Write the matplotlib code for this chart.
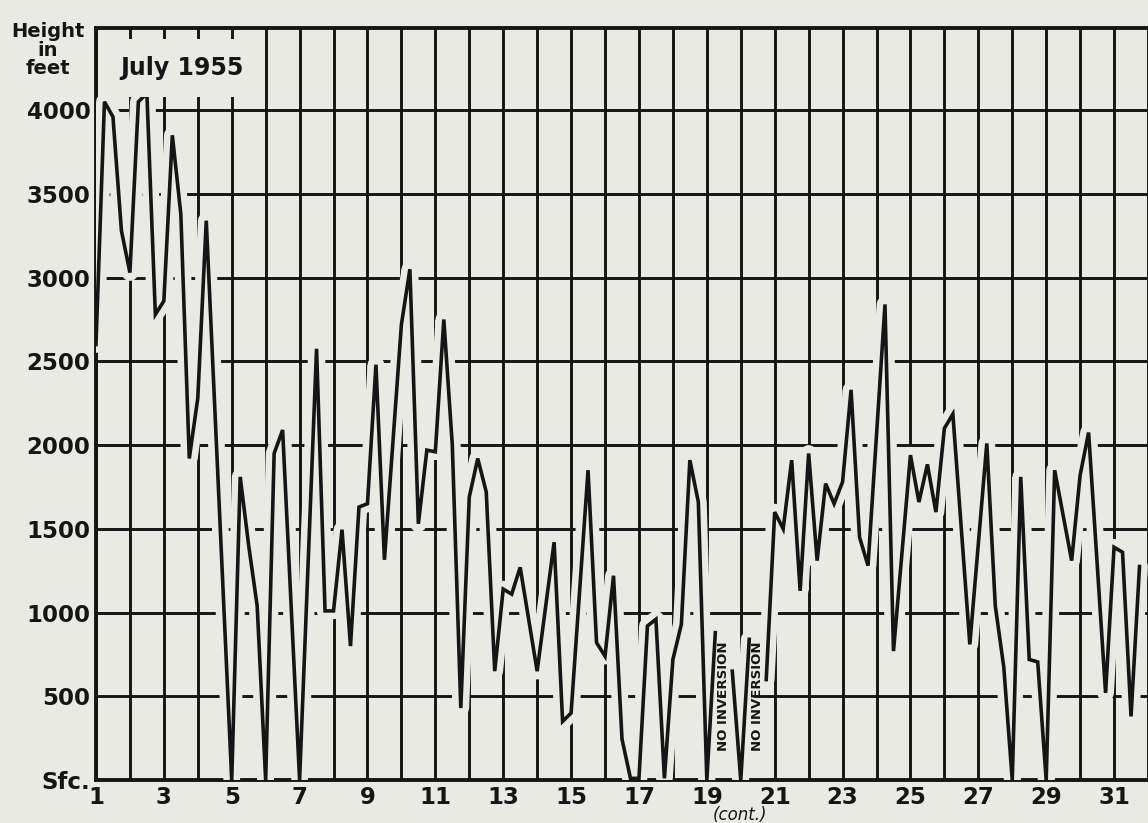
import numpy as np
import matplotlib.pyplot as plt
import matplotlib.patheffects as pe

# Height of the base of the inversion, four soundings a day, July 1955
obs_day = [1.0, 1.25, 1.5, 1.75, 2.0, 2.25, 2.5, 2.75, 3.0, 3.25, 3.5, 3.75,
           4.0, 4.25, 5.0, 5.25, 5.5, 5.75, 6.0, 6.25, 6.5, 7.0, 7.5, 7.75,
           8.0, 8.25, 8.5, 8.75, 9.0, 9.25, 9.5, 10.0, 10.25, 10.5, 10.75,
           11.0, 11.25, 11.5, 11.75, 12.0, 12.25, 12.5, 12.75, 13.0, 13.25,
           13.5, 14.0, 14.5, 14.75, 15.0, 15.5, 15.75, 16.0, 16.25, 16.5,
           16.75, 17.0, 17.25, 17.5, 17.75, 18.0, 18.25, 18.5, 18.75, 19.0,
           19.25, 19.5, 19.75, 20.0, 20.25, 20.5, 20.75, 21.0, 21.25, 21.5,
           21.75, 22.0, 22.25, 22.5, 22.75, 23.0, 23.25, 23.5, 23.75, 24.25,
           24.5, 25.0, 25.25, 25.5, 25.75, 26.0, 26.25, 26.75, 27.25, 27.5,
           27.75, 28.0, 28.25, 28.5, 28.75, 29.0, 29.25, 29.75, 30.0, 30.25,
           30.75, 31.0, 31.25, 31.5, 31.75]
inv_height = [2600, 4050, 3960, 3280, 3030, 4050, 4100, 2780, 2860, 3850, 3380, 1920,
              2280, 3340, 0, 1810, 1400, 1040, 0, 1950, 2090, 0, 2575, 1010,
              1010, 1495, 800, 1630, 1650, 2480, 1315, 2720, 3050, 1530, 1970,
              1960, 2750, 2000, 430, 1690, 1920, 1720, 650, 1140, 1110,
              1270, 650, 1420, 350, 400, 1850, 820, 740, 1220, 245,
              10, 10, 920, 960, 10, 720, 930, 1910, 1660, 0,
              880, np.nan, 650, 0, 840, np.nan, 600, 1600, 1500, 1910,
              1130, 1950, 1310, 1770, 1650, 1780, 2330, 1450, 1280, 2840,
              770, 1940, 1660, 1885, 1600, 2100, 2185, 810, 2010, 1040,
              675, 0, 1810, 720, 705, 0, 1850, 1310, 1820, 2075,
              520, 1390, 1360, 380, 1275]

height_ticks = [0, 500, 1000, 1500, 2000, 2500, 3000, 3500, 4000]
height_labels = ['Sfc.', '500', '1000', '1500', '2000', '2500', '3000', '3500', '4000']
day_labels = list(range(1, 32, 2))
no_inversion_days = [19.5, 20.5]

paper = '#e9eae4'
ink = '#151515'

fig = plt.figure(figsize=(11.48, 8.23), dpi=100, facecolor=paper)
ax = fig.add_axes([0.0836, 0.0522, 0.9164, 0.9137], facecolor=paper)

ax.set_xlim(1, 32)
ax.set_ylim(0, 4490)

# grid: every day and every 500 ft
ax.set_xticks(day_labels)
ax.set_xticklabels([str(d) for d in day_labels])
ax.set_xticks(range(1, 33), minor=True)
ax.set_yticks(height_ticks)
ax.set_yticklabels(height_labels)
ax.grid(True, which='both', color=ink, linewidth=2.1, zorder=1)
ax.set_axisbelow(True)
ax.tick_params(which='both', length=0, colors=ink, labelsize=16.5, pad=4)
for lab in ax.get_xticklabels() + ax.get_yticklabels():
    lab.set_fontweight('bold')

for side in ['left', 'top', 'bottom']:
    ax.spines[side].set_linewidth(2.8)
    ax.spines[side].set_color(ink)
ax.spines['right'].set_visible(False)

# inversion curve, with a paper-coloured halo that breaks the grid around it
halo = pe.Stroke(linewidth=12, foreground=paper, joinstyle='round', capstyle='round')
ax.plot(obs_day, inv_height, color=ink, linewidth=2.6,
        solid_joinstyle='miter', zorder=5,
        path_effects=[halo, pe.Normal()])

for d in no_inversion_days:
    ax.text(d, 500, 'NO INVERSION', rotation=90, ha='center', va='center',
            fontsize=9.5, fontweight='bold', color=ink, zorder=6)

ax.text(182, 755, 'July 1955', transform=None, fontsize=17, fontweight='bold',
        ha='center', va='center', color=ink, zorder=7,
        bbox=dict(boxstyle='square,pad=0.7', facecolor=paper, edgecolor='none'))

fig.text(48 / 1148, 1 - 50 / 823, 'Height\nin\nfeet', ha='center', va='center',
         fontsize=14, fontweight='bold', color=ink, linespacing=0.95)
fig.text(0.645, 0.01, '(cont.)', ha='center', va='center', fontsize=12,
         fontstyle='italic', color=ink)

fig.savefig('out.png', dpi=100, facecolor=paper)
